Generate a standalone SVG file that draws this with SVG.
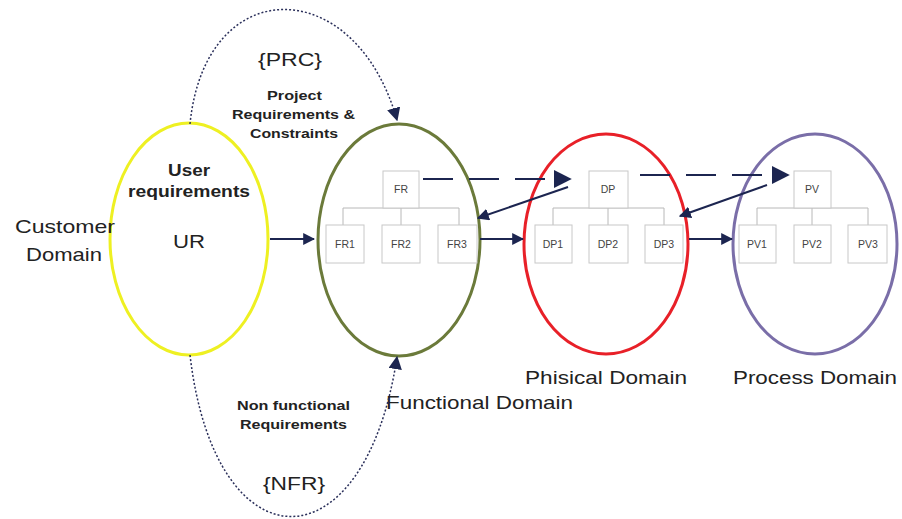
<svg xmlns="http://www.w3.org/2000/svg" width="902" height="519" viewBox="0 0 902 519">
<defs>
<style>
text{font-family:"Liberation Sans",Arial,sans-serif;fill:#222}
.dom{font-size:19px}
.b{font-weight:bold}
.box rect{fill:#fff;stroke:#c8c8c8;stroke-width:1}
.box text{font-size:10.5px;fill:#444;text-anchor:middle}
.bus{fill:none;stroke:#b8b8b8;stroke-width:1}
.arr{stroke:#1c2550;stroke-width:2;fill:none}
.dash{stroke:#1c2550;stroke-width:2;fill:none;stroke-dasharray:30 16}
.dot{stroke:#2a2f5a;stroke-width:1.5;fill:none;stroke-dasharray:2 2}
</style>
<marker id="ah" viewBox="0 0 10 10" refX="9" refY="5" markerWidth="6" markerHeight="6" orient="auto" markerUnits="strokeWidth">
<path d="M0,0 L10,5 L0,10 z" fill="#1c2550"/>
</marker>
<marker id="ahs" viewBox="0 0 10 10" refX="9" refY="5" markerWidth="9" markerHeight="9" orient="auto" markerUnits="strokeWidth">
<path d="M0,0 L10,5 L0,10 z" fill="#1c2550"/>
</marker>
</defs>
<rect width="902" height="519" fill="#fff"/>

<g id="customer">
<ellipse cx="189" cy="239" rx="79" ry="116" fill="none" stroke="#eef022" stroke-width="3"/>
<text class="b" x="168" y="176" font-size="17" textLength="42" lengthAdjust="spacingAndGlyphs">User</text>
<text class="b" x="128" y="197" font-size="17" textLength="122" lengthAdjust="spacingAndGlyphs">requirements</text>
<text x="173" y="248" font-size="19" textLength="32" lengthAdjust="spacingAndGlyphs">UR</text>
<text class="dom" x="15" y="233" textLength="100" lengthAdjust="spacingAndGlyphs">Customer</text>
<text class="dom" x="26" y="261" textLength="76" lengthAdjust="spacingAndGlyphs">Domain</text>
</g>

<g id="functional">
<ellipse cx="399" cy="240" rx="81" ry="116" fill="none" stroke="#6b7a3a" stroke-width="3"/>
<text class="dom" x="386" y="409" textLength="187" lengthAdjust="spacingAndGlyphs">Functional Domain</text>
<path class="bus" d="M343,225 V208 H459 V225 M401,208 V225"/>
<g class="box" id="FR"><rect x="383" y="171" width="36" height="37"/><text x="401" y="193">FR</text></g>
<g class="box" id="FR1"><rect x="326" y="225" width="38" height="38"/><text x="345" y="248">FR1</text></g>
<g class="box" id="FR2"><rect x="382" y="225" width="38" height="38"/><text x="401" y="248">FR2</text></g>
<g class="box" id="FR3"><rect x="438" y="225" width="39" height="38"/><text x="457" y="248">FR3</text></g>
</g>

<g id="physical">
<ellipse cx="606" cy="244" rx="82" ry="110" fill="none" stroke="#e82028" stroke-width="3"/>
<text class="dom" x="525" y="384" textLength="162" lengthAdjust="spacingAndGlyphs">Phisical Domain</text>
<path class="bus" d="M553,225 V208 H664 V225 M608,208 V225"/>
<g class="box" id="DP"><rect x="589" y="171" width="39" height="37"/><text x="608" y="193">DP</text></g>
<g class="box" id="DP1"><rect x="535" y="225" width="37" height="38"/><text x="553" y="248">DP1</text></g>
<g class="box" id="DP2"><rect x="589" y="225" width="39" height="38"/><text x="608" y="248">DP2</text></g>
<g class="box" id="DP3"><rect x="645" y="225" width="38" height="38"/><text x="664" y="248">DP3</text></g>
</g>

<g id="process">
<ellipse cx="815" cy="244" rx="82" ry="110" fill="none" stroke="#7a6ea8" stroke-width="3"/>
<text class="dom" x="733" y="384" textLength="164" lengthAdjust="spacingAndGlyphs">Process Domain</text>
<path class="bus" d="M757,225 V208 H868 V225 M812,208 V225"/>
<g class="box" id="PV"><rect x="794" y="171" width="37" height="37"/><text x="812" y="193">PV</text></g>
<g class="box" id="PV1"><rect x="739" y="225" width="37" height="38"/><text x="757" y="248">PV1</text></g>
<g class="box" id="PV2"><rect x="794" y="225" width="37" height="38"/><text x="812" y="248">PV2</text></g>
<g class="box" id="PV3"><rect x="848" y="225" width="39" height="38"/><text x="868" y="248">PV3</text></g>
</g>

<g id="labels">
<text x="258" y="66" font-size="18" textLength="64" lengthAdjust="spacingAndGlyphs">{PRC}</text>
<text class="b" x="267" y="100" font-size="13" textLength="55" lengthAdjust="spacingAndGlyphs">Project</text>
<text class="b" x="232" y="119" font-size="13" textLength="123" lengthAdjust="spacingAndGlyphs">Requirements &amp;</text>
<text class="b" x="250" y="138" font-size="13" textLength="88" lengthAdjust="spacingAndGlyphs">Constraints</text>
<text class="b" x="237" y="410" font-size="13" textLength="113" lengthAdjust="spacingAndGlyphs">Non functional</text>
<text class="b" x="240" y="429" font-size="13" textLength="107" lengthAdjust="spacingAndGlyphs">Requirements</text>
<text x="263" y="490" font-size="18" textLength="62" lengthAdjust="spacingAndGlyphs">{NFR}</text>
</g>

<g id="connectors">
<path class="arr" d="M270,239 H314" marker-end="url(#ah)"/>
<path class="arr" d="M480,239 H523" marker-end="url(#ah)"/>
<path class="arr" d="M689,239 H732" marker-end="url(#ah)"/>
<path class="dash" d="M423,179 H570" marker-end="url(#ahs)"/>
<path class="dash" d="M640,175 H788" marker-end="url(#ahs)"/>
<path class="arr" d="M568,187 L478,218" marker-end="url(#ah)"/>
<path class="arr" d="M767,185 L680,216" marker-end="url(#ah)"/>
<path class="dot" d="M190,124 C205,-28 355,-28 397,120" marker-end="url(#ahs)"/>
<path class="dot" d="M190,355 C215,570 365,570 397,357" marker-end="url(#ahs)"/>
</g>
</svg>
